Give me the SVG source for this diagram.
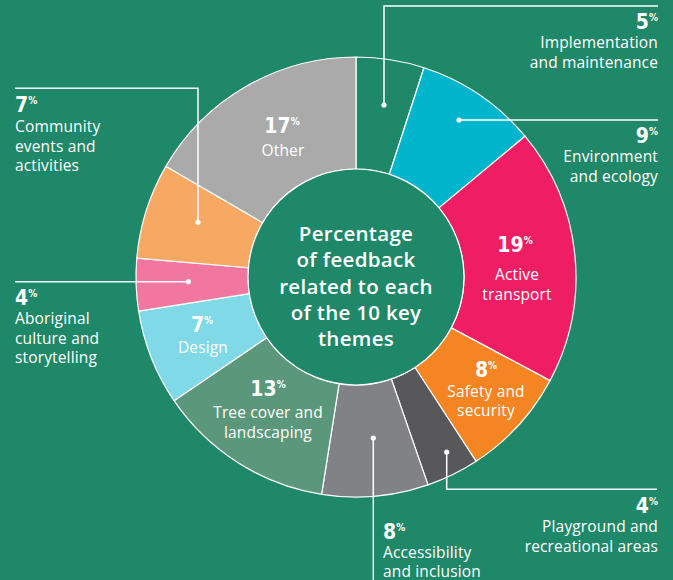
<svg xmlns="http://www.w3.org/2000/svg" width="673" height="580" viewBox="0 0 673 580">
<style>
.seg{stroke:#fff;stroke-width:1.2;stroke-linejoin:round}
.conn{fill:none;stroke:#fff;stroke-width:1.5}
.dot{fill:#fff}
.num{font-family:"Liberation Sans Narrow","DejaVu Sans Condensed","Liberation Sans",sans-serif;font-stretch:condensed;font-weight:bold;font-size:21px;fill:#fff}
.pct{font-size:10px}
.lbl{font-family:"Open Sans","Liberation Sans",sans-serif;font-size:15.5px;letter-spacing:0.15px;fill:#fff}
.ctr{font-family:"Open Sans","Liberation Sans",sans-serif;font-size:20.5px;letter-spacing:0.3px;font-weight:600;fill:#fff}
</style>
<rect width="673" height="580" fill="#1E8868"/>
<g id="donut">
<g id="seg-implementation"><path class="seg" fill="#1E8868" d="M356,57 A220,220 0 0 1 423.98,67.77 L389.37,174.29 A108,108 0 0 0 356,169 Z"/></g>
<g id="seg-environment"><path class="seg" fill="#00B5CC" d="M423.98,67.77 A220,220 0 0 1 525.02,136.18 L438.97,207.87 A108,108 0 0 0 389.37,174.29 Z"/></g>
<g id="seg-active"><path class="seg" fill="#EE1D64" d="M525.02,136.18 A220,220 0 0 1 550.06,380.62 L451.27,327.87 A108,108 0 0 0 438.97,207.87 Z"/></g>
<g id="seg-safety"><path class="seg" fill="#F58423" d="M550.06,380.62 A220,220 0 0 1 476.14,461.30 L414.98,367.47 A108,108 0 0 0 451.27,327.87 Z"/></g>
<g id="seg-playground"><path class="seg" fill="#58585B" d="M476.14,461.30 A220,220 0 0 1 427.99,484.89 L391.34,379.05 A108,108 0 0 0 414.98,367.47 Z"/></g>
<g id="seg-accessibility"><path class="seg" fill="#818286" d="M427.99,484.89 A220,220 0 0 1 321.59,494.29 L339.11,383.67 A108,108 0 0 0 391.34,379.05 Z"/></g>
<g id="seg-tree"><path class="seg" fill="#5B987B" d="M321.59,494.29 A220,220 0 0 1 174.04,400.66 L266.68,337.70 A108,108 0 0 0 339.11,383.67 Z"/></g>
<g id="seg-design"><path class="seg" fill="#80D9E6" d="M174.04,400.66 A220,220 0 0 1 138.65,311.04 L249.30,293.71 A108,108 0 0 0 266.68,337.70 Z"/></g>
<g id="seg-aboriginal"><path class="seg" fill="#F277A0" d="M138.65,311.04 A220,220 0 0 1 136.80,258.21 L248.39,267.77 A108,108 0 0 0 249.30,293.71 Z"/></g>
<g id="seg-community"><path class="seg" fill="#F7A964" d="M136.80,258.21 A220,220 0 0 1 165.86,166.34 L262.66,222.67 A108,108 0 0 0 248.39,267.77 Z"/></g>
<g id="seg-other"><path class="seg" fill="#AAAAAA" d="M165.86,166.34 A220,220 0 0 1 356,57 L356,169 A108,108 0 0 0 262.66,222.67 Z"/></g>
<g id="center"><circle cx="356" cy="277" r="108" fill="#1E8868" stroke="#fff" stroke-width="1.2"/>
<text class="ctr" text-anchor="middle" x="356"><tspan x="356" y="241">Percentage</tspan><tspan x="356" y="267">of feedback</tspan><tspan x="356" y="293.5">related to each</tspan><tspan x="356" y="320">of the 10 key</tspan><tspan x="356" y="346">themes</tspan></text></g>
</g>
<g id="connectors">
<path class="conn" d="M384,105 V6 H658"/>
<path class="conn" d="M459,120 H658"/>
<path class="conn" d="M446.7,452 V489.3 H657"/>
<path class="conn" d="M373.3,438 V580"/>
<path class="conn" d="M198,222.3 V88.3 H15"/>
<path class="conn" d="M188.3,281.7 H15"/>
<circle class="dot" cx="384" cy="105" r="2.6"/>
<circle class="dot" cx="459" cy="120" r="2.6"/>
<circle class="dot" cx="446.7" cy="452" r="2.6"/>
<circle class="dot" cx="373.3" cy="438" r="2.6"/>
<circle class="dot" cx="198" cy="222.3" r="2.6"/>
<circle class="dot" cx="188.3" cy="281.7" r="2.6"/>
</g>
<g id="label-implementation">
<text class="num" x="658" y="29" text-anchor="end">5<tspan class="pct" dy="-8">%</tspan></text>
<text class="lbl" text-anchor="end"><tspan x="658" y="48">Implementation</tspan><tspan x="658" y="68">and maintenance</tspan></text>
</g>
<g id="label-environment">
<text class="num" x="658" y="143" text-anchor="end">9<tspan class="pct" dy="-8">%</tspan></text>
<text class="lbl" text-anchor="end"><tspan x="658" y="162">Environment</tspan><tspan x="658" y="182">and ecology</tspan></text>
</g>
<g id="label-active">
<text class="num" x="515" y="252" text-anchor="middle">19<tspan class="pct" dy="-8">%</tspan></text>
<text class="lbl" text-anchor="middle"><tspan x="517" y="280">Active</tspan><tspan x="517" y="300">transport</tspan></text>
</g>
<g id="label-safety">
<text class="num" x="486" y="377" text-anchor="middle">8<tspan class="pct" dy="-8">%</tspan></text>
<text class="lbl" text-anchor="middle"><tspan x="486" y="397">Safety and</tspan><tspan x="486" y="416">security</tspan></text>
</g>
<g id="label-playground">
<text class="num" x="658" y="513" text-anchor="end">4<tspan class="pct" dy="-8">%</tspan></text>
<text class="lbl" text-anchor="end"><tspan x="658" y="532">Playground and</tspan><tspan x="658" y="552">recreational areas</tspan></text>
</g>
<g id="label-accessibility">
<text class="num" x="383" y="539">8<tspan class="pct" dy="-8">%</tspan></text>
<text class="lbl"><tspan x="383" y="558">Accessibility</tspan><tspan x="383" y="577">and inclusion</tspan></text>
</g>
<g id="label-tree">
<text class="num" x="268" y="396" text-anchor="middle">13<tspan class="pct" dy="-8">%</tspan></text>
<text class="lbl" text-anchor="middle"><tspan x="268" y="418">Tree cover and</tspan><tspan x="268" y="438">landscaping</tspan></text>
</g>
<g id="label-design">
<text class="num" x="202" y="332" text-anchor="middle">7<tspan class="pct" dy="-8">%</tspan></text>
<text class="lbl" text-anchor="middle"><tspan x="203" y="353">Design</tspan></text>
</g>
<g id="label-aboriginal">
<text class="num" x="15" y="305">4<tspan class="pct" dy="-8">%</tspan></text>
<text class="lbl"><tspan x="15" y="324">Aboriginal</tspan><tspan x="15" y="344">culture and</tspan><tspan x="15" y="363">storytelling</tspan></text>
</g>
<g id="label-community">
<text class="num" x="15" y="112">7<tspan class="pct" dy="-8">%</tspan></text>
<text class="lbl"><tspan x="15" y="132">Community</tspan><tspan x="15" y="151.5">events and</tspan><tspan x="15" y="171">activities</tspan></text>
</g>
<g id="label-other">
<text class="num" x="282" y="133" text-anchor="middle">17<tspan class="pct" dy="-8">%</tspan></text>
<text class="lbl" text-anchor="middle"><tspan x="283" y="156">Other</tspan></text>
</g>
</svg>
